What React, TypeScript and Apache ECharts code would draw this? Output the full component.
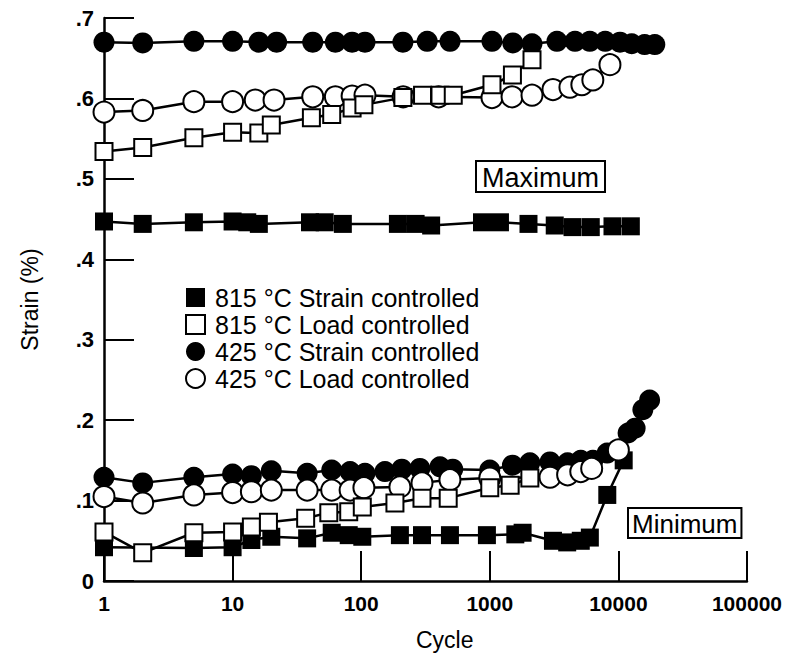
import { useEffect, useRef } from "react";
import * as echarts from "echarts";

// Tick labels
const yTickLabels: Record<string, string> = {
  "0": "0", "0.1": ".1", "0.2": ".2", "0.3": ".3", "0.4": ".4", "0.5": ".5", "0.6": ".6", "0.7": ".7",
};
const xTickLabels = ["1", "10", "100", "1000", "10000", "100000"];

const legendNames = [
  "815 °C Strain controlled",
  "815 °C Load controlled",
  "425 °C Strain controlled",
  "425 °C Load controlled",
];

// 815 °C, strain controlled
const s815StrainMaxCycles = [1, 2, 5, 10, 13, 16, 40, 52, 72, 193, 265, 350, 870, 1200, 2000, 3200, 4400, 6100, 9000, 12500];
const s815StrainMaxValues = [0.447, 0.444, 0.446, 0.447, 0.446, 0.444, 0.446, 0.446, 0.444, 0.444, 0.444, 0.442, 0.446, 0.446, 0.444, 0.442, 0.44, 0.44, 0.441, 0.441];
const s815StrainMinCycles = [1, 5, 10, 14, 20, 38, 59, 80, 102, 200, 297, 490, 950, 1580, 1800, 3100, 4000, 5100, 6000, 8200, 11000];
const s815StrainMinValues = [0.042, 0.041, 0.042, 0.051, 0.055, 0.053, 0.06, 0.057, 0.055, 0.057, 0.057, 0.057, 0.057, 0.058, 0.06, 0.05, 0.048, 0.05, 0.054, 0.107, 0.15];

// 815 °C, load controlled
const s815LoadMaxCycles = [1, 2, 5, 10, 16, 20, 41, 59, 85, 105, 211, 300, 410, 520, 1040, 1500, 2130];
const s815LoadMaxValues = [0.534, 0.539, 0.551, 0.558, 0.557, 0.567, 0.576, 0.58, 0.588, 0.592, 0.601, 0.604, 0.604, 0.604, 0.617, 0.629, 0.648];
const s815LoadMinCycles = [1, 2, 5, 10, 14, 19, 37, 56, 80, 102, 183, 297, 475, 1000, 1440, 2050];
const s815LoadMinValues = [0.061, 0.035, 0.06, 0.061, 0.067, 0.073, 0.078, 0.085, 0.086, 0.092, 0.097, 0.103, 0.103, 0.116, 0.119, 0.128];

// 425 °C, strain controlled
const s425StrainMaxCycles = [1, 2, 5, 10, 16, 22, 42, 63, 85, 107, 211, 326, 491, 1040, 1510, 2130, 3330, 4600, 6000, 7900, 10300, 12700, 16000, 19200];
const s425StrainMaxValues = [0.67, 0.669, 0.671, 0.671, 0.67, 0.67, 0.67, 0.67, 0.67, 0.67, 0.67, 0.671, 0.671, 0.671, 0.669, 0.668, 0.671, 0.671, 0.671, 0.671, 0.67, 0.668, 0.667, 0.667];
const s425StrainMinCycles = [1, 2, 5, 10, 14, 20, 38, 59, 82, 107, 153, 207, 286, 410, 515, 1000, 1500, 2050, 2940, 4030, 5100, 6340, 8180, 11900, 13500, 15500, 17500];
const s425StrainMinValues = [0.129, 0.122, 0.129, 0.133, 0.131, 0.137, 0.134, 0.138, 0.136, 0.134, 0.136, 0.139, 0.14, 0.142, 0.139, 0.138, 0.144, 0.147, 0.148, 0.147, 0.15, 0.15, 0.159, 0.184, 0.19, 0.213, 0.225];

// 425 °C, load controlled
const s425LoadMaxCycles = [1, 2, 5, 10, 15, 21, 42, 63, 85, 107, 212, 400, 1040, 1490, 2130, 3100, 4200, 5200, 6330, 8600];
const s425LoadMaxValues = [0.583, 0.585, 0.596, 0.596, 0.598, 0.598, 0.602, 0.602, 0.603, 0.604, 0.602, 0.602, 0.601, 0.602, 0.604, 0.611, 0.614, 0.617, 0.623, 0.642];
const s425LoadMinCycles = [1, 2, 5, 10, 14, 20, 38, 59, 82, 105, 200, 297, 490, 1000, 2940, 4030, 5100, 6200, 10000];
const s425LoadMinValues = [0.105, 0.097, 0.107, 0.11, 0.111, 0.113, 0.113, 0.113, 0.113, 0.116, 0.117, 0.122, 0.126, 0.128, 0.129, 0.132, 0.136, 0.14, 0.163];

const FONT = "'Liberation Sans', Arial, Helvetica, sans-serif";

const zip = (xs: number[], ys: number[]) => xs.map((x, i) => [x, ys[i]]);

type Marker = { symbol: string; size: number; filled: boolean };
const markers: Marker[] = [
  { symbol: "rect", size: 18, filled: true },
  { symbol: "rect", size: 17, filled: false },
  { symbol: "circle", size: 21, filled: true },
  { symbol: "circle", size: 21, filled: false },
];

const fillStyle = (m: Marker) =>
  m.filled
    ? { color: "#000", borderColor: "#000", borderWidth: 0 }
    : { color: "#fff", borderColor: "#000", borderWidth: 2 };

function lineSeries(name: string, m: Marker, data: number[][]) {
  return {
    type: "line",
    name,
    data,
    symbol: m.symbol,
    symbolSize: m.size,
    showAllSymbol: true,
    lineStyle: { color: "#000", width: 2.5 },
    itemStyle: fillStyle(m),
    emphasis: { disabled: true },
  };
}

export default function App() {
  const ref = useRef<HTMLDivElement>(null);

  useEffect(() => {
    if (!ref.current) return;
    const chart = echarts.init(ref.current, undefined, { renderer: "svg" });

    // drawn bottom to top: filled squares, filled circles, open circles, open squares
    const series = [
      lineSeries(legendNames[0], markers[0], zip(s815StrainMaxCycles, s815StrainMaxValues)),
      lineSeries(legendNames[0], markers[0], zip(s815StrainMinCycles, s815StrainMinValues)),
      lineSeries(legendNames[2], markers[2], zip(s425StrainMaxCycles, s425StrainMaxValues)),
      lineSeries(legendNames[2], markers[2], zip(s425StrainMinCycles, s425StrainMinValues)),
      lineSeries(legendNames[3], markers[3], zip(s425LoadMaxCycles, s425LoadMaxValues)),
      lineSeries(legendNames[3], markers[3], zip(s425LoadMinCycles, s425LoadMinValues)),
      lineSeries(legendNames[1], markers[1], zip(s815LoadMaxCycles, s815LoadMaxValues)),
      lineSeries(legendNames[1], markers[1], zip(s815LoadMinCycles, s815LoadMinValues)),
    ];

    const boxText = (text: string, size: number, padX: number) => ({
      text,
      font: `${size}px ${FONT}`,
      fill: "#000",
      borderColor: "#000",
      borderWidth: 2,
      padding: [2, padX, 0, padX],
      backgroundColor: "#fff",
    });

    chart.setOption({
      animation: false,
      backgroundColor: "#fff",
      grid: { left: 104, right: 38, top: 18, bottom: 91, containLabel: false },
      legend: {
        orient: "vertical",
        left: 180,
        top: 280,
        itemWidth: 19,
        itemHeight: 19,
        itemGap: 2,
        selectedMode: false,
        data: legendNames.map((n, i) => ({
          name: n,
          icon: markers[i].symbol,
          itemStyle: fillStyle(markers[i]),
        })),
        textStyle: { fontFamily: FONT, fontSize: 25, color: "#000", lineHeight: 25, padding: [0, 0, 0, 5] },
      },
      xAxis: {
        type: "log",
        logBase: 10,
        min: 1,
        max: 100000,
        axisLine: { show: true, lineStyle: { color: "#000", width: 2.5 } },
        axisTick: { show: true, inside: true, length: 30, lineStyle: { color: "#000", width: 2 } },
        minorTick: { show: false },
        splitLine: { show: false },
        axisLabel: {
          margin: 12,
          color: "#000",
          fontFamily: FONT,
          fontSize: 21,
          fontWeight: "bold",
          formatter: (v: number) => xTickLabels[Math.round(Math.log10(v))] ?? "",
        },
      },
      yAxis: {
        type: "value",
        min: 0,
        max: 0.7,
        interval: 0.1,
        name: "Strain (%)",
        nameLocation: "middle",
        nameGap: 63,
        nameRotate: 90,
        nameTextStyle: { fontFamily: FONT, fontSize: 23, color: "#000" },
        axisLine: { show: true, lineStyle: { color: "#000", width: 2.5 } },
        axisTick: { show: true, inside: true, length: 30, lineStyle: { color: "#000", width: 2 } },
        splitLine: { show: false },
        axisLabel: {
          margin: 10,
          color: "#000",
          fontFamily: FONT,
          fontSize: 22,
          fontWeight: "bold",
          formatter: (v: number) => yTickLabels[String(Math.round(v * 10) / 10)] ?? "",
        },
      },
      graphic: [
        {
          type: "text",
          left: 416,
          top: 628,
          style: { text: "Cycle", font: `23px ${FONT}`, fill: "#000" },
        },
        { type: "text", left: 475, top: 160, style: boxText("Maximum", 27, 5) },
        { type: "text", left: 627, top: 507, style: boxText("Minimum", 26, 3) },
      ],
      series,
    });

    return () => chart.dispose();
  }, []);

  return (
    <div
      ref={ref}
      style={{ position: "fixed", left: 0, top: 0, width: 785, height: 672, background: "#fff" }}
    />
  );
}
